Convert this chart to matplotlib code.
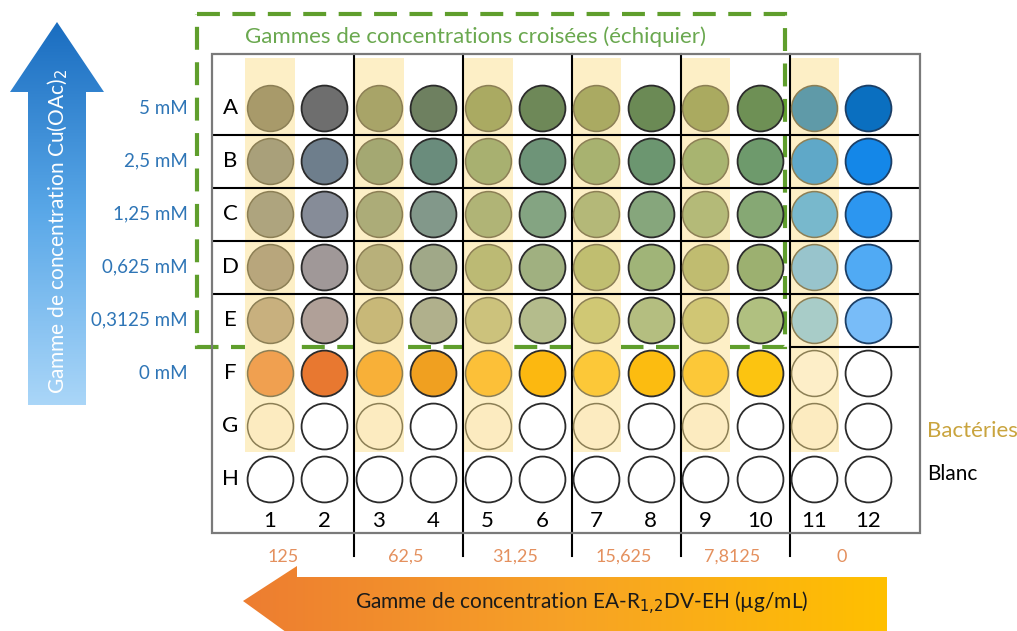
import numpy as np
import matplotlib.pyplot as plt
from matplotlib.patches import Polygon, Rectangle
from matplotlib.colors import LinearSegmentedColormap

plt.rcParams["font.family"] = ["Lato", "DejaVu Sans"]

# données de la plaque
rows = list("ABCDEFGH")
cols = list(range(1, 13))
cu_labels = ["5 mM", "2,5 mM", "1,25 mM", "0,625 mM", "0,3125 mM", "0 mM"]
ea_labels = ["125", "62,5", "31,25", "15,625", "7,8125", "0"]
ea_pos = [1.25, 3.5, 5.5, 7.5, 9.5, 11.5]
bact_cols = [1, 3, 5, 7, 9, 11]
bact_rows = 7  # lignes A à G avec bactéries

well_colors = [
    ["#a89a6a", "#6e6e6e", "#a8a468", "#6e8060", "#aaaa62", "#6e8858",
     "#aaaa62", "#6b8a55", "#aaaa60", "#6e9055", "#5f9aa8", "#0a6fc0"],
    ["#a9a07a", "#6e7e8c", "#a4a872", "#6a8c7c", "#a8b070", "#6e9478",
     "#a8b270", "#6c9670", "#a8b470", "#6e9a6c", "#5fa8c8", "#1487e8"],
    ["#aea47e", "#868c98", "#acac78", "#82988a", "#b0b476", "#84a482",
     "#b4b878", "#86a67c", "#b4ba78", "#86a874", "#78b8cc", "#2c96f0"],
    ["#b8a67c", "#a09898", "#b8b07a", "#a0a888", "#bcba74", "#a0b080",
     "#c0be70", "#a0b478", "#c0bc70", "#9cb070", "#98c4cc", "#50aaf4"],
    ["#c8b07e", "#b0a098", "#c8b878", "#b0b08c", "#ccc27c", "#b4bc8c",
     "#d0c874", "#b4be80", "#d0c674", "#b0c080", "#a8ccc8", "#78bcf8"],
    ["#f0a050", "#e87830", "#f8b038", "#f0a020", "#fcc038", "#fcb810",
     "#fcc838", "#fcbc10", "#fcc838", "#fcc410", "#fdeec8", "#ffffff"],
    ["#fcebc0", "#ffffff", "#fcebc0", "#ffffff", "#fcebc0", "#ffffff",
     "#fcebc0", "#ffffff", "#fcebc0", "#ffffff", "#fcebc0", "#ffffff"],
    ["#ffffff"] * 12,
]

W, H = 1017, 631
fig = plt.figure(figsize=(W / 100, H / 100), dpi=100)

# axe de fond en pixels pour les flèches et le cadre
ax = fig.add_axes([0, 0, 1, 1])
ax.set_xlim(0, W)
ax.set_ylim(H, 0)
ax.axis("off")

# axe de la plaque (unités : colonnes / lignes)
px_l, px_r, px_t, px_b = 212, 920, 54, 533
axp = fig.add_axes([px_l / W, 1 - px_b / H, (px_r - px_l) / W, (px_b - px_t) / H])
dx, dy = 54.4, 53.0
axp.set_xlim(1 - (270 - px_l) / dx, 1 + (px_r - 270) / dx)
axp.set_ylim((px_b - 108) / dy, (px_t - 108) / dy)
axp.axis("off")

# bandes bactéries
for c in bact_cols:
    axp.add_patch(Rectangle((c - 0.46, -0.94), 0.92, 7.43,
                            facecolor="#fdefc6", edgecolor="none", zorder=1))

# cadre de la plaque
xl, xr = axp.get_xlim()
yb, yt = axp.get_ylim()
axp.add_patch(Rectangle((xl, yt), xr - xl, yb - yt, fill=False,
                        edgecolor="#7a7a7a", lw=1.6, zorder=3, clip_on=False))

# lignes horizontales (A-E) et verticales
for r in range(4):
    axp.plot([xl, xr], [r + 0.51, r + 0.51], color="black", lw=1.5, zorder=2)
axp.plot([10.55, xr], [4.51, 4.51], color="black", lw=1.5, zorder=2)
for c in [2, 4, 6, 8, 10]:
    axp.plot([c + 0.55, c + 0.55], [yt, 8.45], color="black", lw=1.5,
             zorder=2, clip_on=False)

# puits
for r, row in enumerate(rows):
    for j, c in enumerate(cols):
        if c in bact_cols and r < bact_rows:
            ec, lw = "#8c7f55", 1.1
        elif c == 12 and r < 5:
            ec, lw = "#1c3f66", 1.3
        else:
            ec, lw = "#2b2b2b", 1.3
        axp.scatter(c, r, s=1090, color=well_colors[r][j], edgecolors=ec,
                    linewidths=lw, zorder=4)

# étiquettes
for r, row in enumerate(rows):
    axp.text(0.27, r, row, ha="center", va="center", fontsize=16, color="black")
for c in cols:
    axp.text(c, 7.8, str(c), ha="center", va="center", fontsize=16, color="black")
for r, lab in enumerate(cu_labels):
    axp.text(-0.51, r, lab, ha="right", va="center", fontsize=13.5,
             color="#2e75b6", clip_on=False)
for p, lab in zip(ea_pos, ea_labels):
    axp.text(p, 8.47, lab, ha="center", va="center", fontsize=13,
             color="#e4905e", clip_on=False)
axp.text(13.08, 6.1, "Bactéries", ha="left", va="center", fontsize=16,
         color="#c9a43e", clip_on=False)
axp.text(13.08, 6.9, "Blanc", ha="left", va="center", fontsize=15,
         color="black", clip_on=False)

# cadre vert en pointillés (échiquier)
ax.add_patch(Rectangle((197, 14), 588, 333, fill=False, edgecolor="#5f9e2c",
                       lw=3, linestyle=(0, (5.5, 3.0)), zorder=10))
ax.text(245, 37, "Gammes de concentrations croisées (échiquier)", ha="left",
        va="center", fontsize=16, color="#6aa84f")

# flèche bleue (Cu(OAc)2)
blue = LinearSegmentedColormap.from_list("b", ["#1a6dc0", "#5aa8e8", "#aad6f8"])
poly_b = Polygon([(28, 405), (28, 92), (10, 92), (57, 22), (104, 92),
                  (86, 92), (86, 405)], closed=True, facecolor="none",
                 edgecolor="none")
ax.add_patch(poly_b)
grad = np.linspace(0, 1, 256).reshape(-1, 1)
im = ax.imshow(grad, cmap=blue, extent=(10, 104, 405, 22), aspect="auto",
               zorder=1)
im.set_clip_path(poly_b)
ax.text(58, 232, "Gamme de concentration Cu(OAc)$_2$", rotation=90,
        ha="center", va="center", fontsize=15, color="white", zorder=2)

# flèche orange (EA-R1,2DV-EH)
orange = LinearSegmentedColormap.from_list("o", ["#ed7d31", "#f7a226", "#ffc000"])
poly_o = Polygon([(243, 601), (297, 566), (297, 577), (887, 577),
                  (887, 640), (297, 640)], closed=True, facecolor="none",
                 edgecolor="none")
ax.add_patch(poly_o)
grad2 = np.linspace(0, 1, 256).reshape(1, -1)
im2 = ax.imshow(grad2, cmap=orange, extent=(243, 887, 640, 566),
                aspect="auto", zorder=1)
im2.set_clip_path(poly_o)
ax.text(582, 603, "Gamme de concentration EA-R$_{1{,}2}$DV-EH (µg/mL)",
        ha="center", va="center", fontsize=15, color="#1a1a1a", zorder=2)

ax.set_xlim(0, W)
ax.set_ylim(H, 0)
fig.savefig("out.png", dpi=100)
